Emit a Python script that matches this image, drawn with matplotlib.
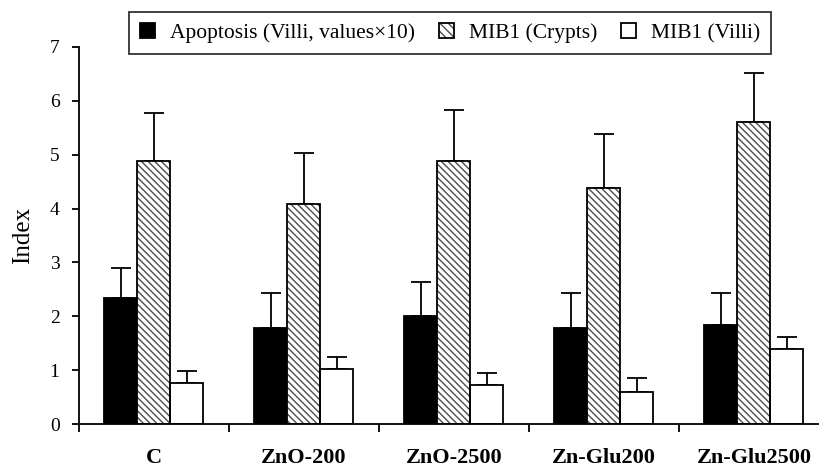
import matplotlib
matplotlib.use("Agg")
import matplotlib.pyplot as plt
import matplotlib.patches as mpatches
from matplotlib.legend_handler import HandlerTuple
import numpy as np

plt.rcParams['font.family'] = ['Liberation Serif', 'DejaVu Serif']
plt.rcParams['hatch.linewidth'] = 1.0

# Data
categories = ['C', 'ZnO-200', 'ZnO-2500', 'Zn-Glu200', 'Zn-Glu2500']
apoptosis = [2.34, 1.78, 2.00, 1.78, 1.83]
apoptosis_err = [0.56, 0.65, 0.63, 0.65, 0.60]
mib1_crypts = [4.89, 4.09, 4.88, 4.39, 5.60]
mib1_crypts_err = [0.88, 0.95, 0.95, 1.00, 0.92]
mib1_villi = [0.76, 1.02, 0.72, 0.59, 1.39]
mib1_villi_err = [0.22, 0.22, 0.22, 0.26, 0.22]
yticks = [0, 1, 2, 3, 4, 5, 6, 7]

labels = ['Apoptosis (Villi, values\u00d710)', 'MIB1 (Crypts)', 'MIB1 (Villi)']

# Styles
bar_w = 0.22
lw = 1.3
hatch = '\\\\\\\\\\'
hatch_grey = '#4d4d4d'

dpi = 100
fig = plt.figure(figsize=(820 / dpi, 468 / dpi), dpi=dpi)
ax = fig.add_axes([0.0963, 0.094, 0.9146, 0.8056])

x = np.arange(len(categories))
zeros = np.zeros(len(categories))

# Error bars first so the bars cover the lower half
for offs, vals, errs in [(-bar_w, apoptosis, apoptosis_err),
                         (0, mib1_crypts, mib1_crypts_err),
                         (bar_w, mib1_villi, mib1_villi_err)]:
    ax.errorbar(x + offs, vals, yerr=[zeros, errs], fmt='none', ecolor='black',
                elinewidth=lw, capsize=7, capthick=lw, zorder=1)

ax.bar(x - bar_w, apoptosis, bar_w, color='black', edgecolor='black', linewidth=lw, zorder=2)
# hatched bars: grey hatch, then black outline on top
ax.bar(x, mib1_crypts, bar_w, color='white', edgecolor=hatch_grey, hatch=hatch, linewidth=0, zorder=2)
ax.bar(x, mib1_crypts, bar_w, color='none', edgecolor='black', linewidth=lw, zorder=3)
ax.bar(x + bar_w, mib1_villi, bar_w, color='white', edgecolor='black', linewidth=lw, zorder=2)

ax.set_xlim(-0.5, len(categories) - 0.5)
ax.set_ylim(0, 7)

for side in ['top', 'right']:
    ax.spines[side].set_visible(False)
for side in ['left', 'bottom']:
    ax.spines[side].set_linewidth(lw)

ax.set_yticks(yticks)
ax.set_yticklabels([str(t) for t in yticks], fontsize=14)
ax.tick_params(axis='y', direction='out', length=5, width=lw, pad=9)

# ticks between the groups, labels under the groups
ax.set_xticks(np.arange(len(categories) + 1) - 0.5)
ax.set_xticklabels([])
ax.set_xticks(x, minor=True)
ax.set_xticklabels(categories, minor=True, fontsize=16, fontweight='bold')
ax.tick_params(axis='x', which='major', direction='out', length=6, width=lw)
ax.tick_params(axis='x', which='minor', length=0, pad=17)

ax.set_ylabel('Index', fontsize=18, labelpad=11)

handles = [
    mpatches.Patch(facecolor='black', edgecolor='black', linewidth=lw),
    (mpatches.Patch(facecolor='white', edgecolor=hatch_grey, hatch='\\\\\\\\', linewidth=0),
     mpatches.Patch(facecolor='none', edgecolor='black', linewidth=lw)),
    mpatches.Patch(facecolor='white', edgecolor='black', linewidth=lw),
]
leg = fig.legend(handles, labels, loc='upper center', bbox_to_anchor=(0.549, 0.974),
                 ncol=3, fontsize=15.5, frameon=True, fancybox=False,
                 handlelength=0.7, handleheight=0.7, handletextpad=0.7,
                 columnspacing=1.1, borderpad=0.5, borderaxespad=0,
                 handler_map={tuple: HandlerTuple(ndivide=1, pad=0)})
leg.get_frame().set_edgecolor('black')
leg.get_frame().set_linewidth(lw)

fig.savefig('out.png', dpi=dpi)
